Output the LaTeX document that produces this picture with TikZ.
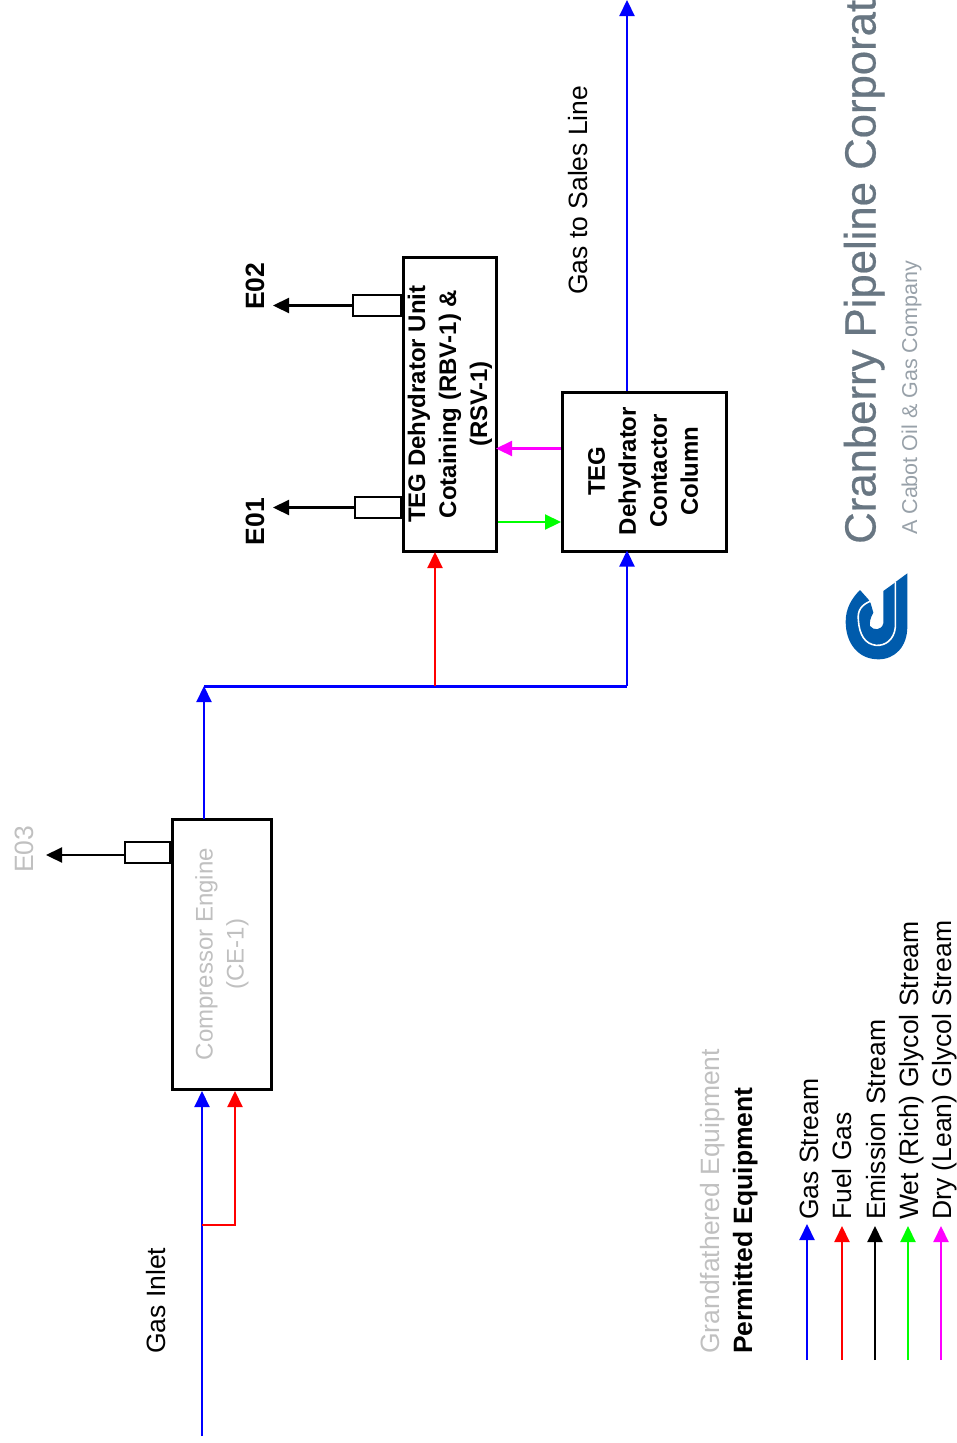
\documentclass[tikz,border=0pt]{standalone}
\usepackage{fontspec}
\setmainfont{Liberation Sans}
\newfontfamily\cofont[FakeBold=0.5]{Liberation Sans}
\usetikzlibrary{arrows.meta}
\definecolor{gflow}{HTML}{0000FF}
\definecolor{fflow}{HTML}{FF0000}
\definecolor{wflow}{HTML}{00FF00}
\definecolor{dflow}{HTML}{FF00FF}
\definecolor{greytext}{HTML}{C0C0C0}
\definecolor{logoblue}{HTML}{005BAC}
\definecolor{cranegrey}{HTML}{687682}
\definecolor{subgrey}{HTML}{98A1A9}
\tikzset{
  flow/.style={line width=2.2pt,-{Triangle[length=16pt,width=15pt]}},
  plantbox/.style={draw=black,line width=3pt,fill=white,inner sep=0pt},
  stackbox/.style={draw=black,line width=1.8pt,fill=white,inner sep=0pt,minimum height=21pt},
  rlabel/.style={rotate=90,anchor=base west,inner sep=0pt,font=\fontsize{26.5}{31}\selectfont},
  blabel/.style={rotate=90,align=center,inner sep=0pt,font=\fontsize{24}{31}\selectfont\bfseries},
  clabel/.style={rotate=90,align=center,inner sep=0pt,text=greytext,font=\fontsize{24}{31}\selectfont},
}
\begin{document}
\begin{tikzpicture}[x=1pt,y=-1pt]
\useasboundingbox (0,0) rectangle (957,1443);
% plant boxes
\node[plantbox,minimum width=99pt,minimum height=270pt] (ce) at (222,954.5) {};
\node[plantbox,minimum width=93pt,minimum height=293.5pt] (unit) at (450,404.25) {};
\node[plantbox,minimum width=164pt,minimum height=158.5pt] (col) at (644.5,471.75) {};
\node[clabel] (celabel) at (222,954) {Compressor Engine\\(CE-1)};
\node[blabel] (unitlabel) at (450,404) {TEG Dehydrator Unit\\Cotaining (RBV-1) \&\\(RSV-1)};
\node[blabel] (collabel) at (643,471) {TEG\\Dehydrator\\Contactor\\Column};
% stacks
\node[stackbox,minimum width=48pt,anchor=east] (s2) at (unit.west |- 0,305.5) {};
\node[stackbox,minimum width=46pt,anchor=east] (s1) at (unit.west |- 0,507.5) {};
\node[stackbox,minimum width=45pt,anchor=east] (s3) at (ce.west |- 0,852.5) {};
\coordinate (e2tip) at (273,305.5);
\coordinate (e1tip) at (273,507.5);
\coordinate (e3tip) at (46,855);
\draw[flow] (s2.west) -- (e2tip);
\draw[flow] (s1.west) -- (e1tip);
\draw[flow] (s3.west |- e3tip) -- (e3tip);
\node[rlabel,font=\fontsize{26.5}{31}\selectfont\bfseries] (e2) at (264,310) {E02};
\node[rlabel,font=\fontsize{26.5}{31}\selectfont\bfseries] (e1) at (264,545.5) {E01};
\node[rlabel,text=greytext] (e3) at (33,873) {E03};
% gas and fuel lines
\coordinate (inlet) at (202,1436);
\coordinate (tee) at (202,1225);
\coordinate (cein) at (202,1091);
\coordinate (fuelin) at (235,1091);
\coordinate (ceout) at (204,819);
\coordinate (hl) at (204,686);
\coordinate (hm) at (435,686);
\coordinate (hr) at (627,686);
\coordinate (sales) at (627,0);
\draw[flow,gflow] (inlet) -- (cein);
\draw[flow,fflow] (tee) -| (fuelin);
\draw[flow,gflow] (ceout) -- (hl);
\draw[gflow,line width=3pt] (hl) -- (hr);
\draw[flow,fflow] (hm) -- ([yshift=0.5pt]hm |- unit.south);
\draw[flow,gflow] (hr) -- ([yshift=2pt]hr |- col.south);
\draw[flow,gflow] (hr |- col.north) -- (sales);
\draw[flow,dflow] (col.west |- 0,448.5) -- ([xshift=-2pt]unit.east |- 0,448.5);
\draw[flow,wflow] (unit.east |- 0,522) -- (col.west |- 0,522);
\node[rlabel] (gaslabel) at (165,1354) {Gas Inlet};
\node[rlabel] (saleslabel) at (587,295) {Gas to Sales Line};
% legend
\node[rlabel,text=greytext] (lg) at (719,1354) {Grandfathered Equipment};
\node[rlabel,font=\fontsize{26.5}{31}\selectfont\bfseries] (lp) at (752,1354) {Permitted Equipment};
\coordinate (l1a) at (807,1360); \coordinate (l1b) at (807,1224);
\coordinate (l2a) at (842,1360); \coordinate (l2b) at (842,1226);
\coordinate (l3a) at (875,1360); \coordinate (l3b) at (875,1226);
\coordinate (l4a) at (908,1360); \coordinate (l4b) at (908,1226);
\coordinate (l5a) at (941,1360); \coordinate (l5b) at (941,1226);
\draw[flow,gflow] (l1a) -- (l1b);
\draw[flow,fflow] (l2a) -- (l2b);
\draw[flow,black] (l3a) -- (l3b);
\draw[flow,wflow] (l4a) -- (l4b);
\draw[flow,dflow] (l5a) -- (l5b);
\node[rlabel] (t1) at (818,1220) {Gas Stream};
\node[rlabel] (t2) at (851,1220) {Fuel Gas};
\node[rlabel] (t3) at (885,1220) {Emission Stream};
\node[rlabel] (t4) at (918,1220) {Wet (Rich) Glycol Stream};
\node[rlabel] (t5) at (951.5,1220) {Dry (Lean) Glycol Stream};
% company name
\node[rotate=90,anchor=base west,inner sep=0pt,text=cranegrey,font=\fontsize{43.7}{50}\cofont] (co) at (875.5,544) {Cranberry Pipeline Corporat};
\node[rotate=90,anchor=base west,inner sep=0pt,text=subgrey,font=\fontsize{21.5}{26}\selectfont] (sub) at (917,535) {A Cabot Oil \& Gas Company};
% logo
\begin{scope}[shift={(820,540)},x=0.3333pt,y=-0.3333pt]
\fill[logoblue] (262,100) -- (262,260) .. controls (262,320) and (225,358) .. (175,358)
  .. controls (115,358) and (77,310) .. (77,245) .. controls (77,205) and (95,175) .. (120,150)
  -- (145,178) -- (152,190) -- (160,218) .. controls (150,235) and (148,250) .. (150,258)
  .. controls (160,272) and (185,272) .. (190,250) -- (190,153) -- (222,130) -- (228,125) -- cycle;
\draw[white,line width=1.6pt] (150,184) .. controls (125,195) and (112,210) .. (115,240)
  .. controls (118,285) and (135,312) .. (168,316) .. controls (195,318) and (222,300) .. (226,262) -- (226,126);
\end{scope}
\end{tikzpicture}
\end{document}
